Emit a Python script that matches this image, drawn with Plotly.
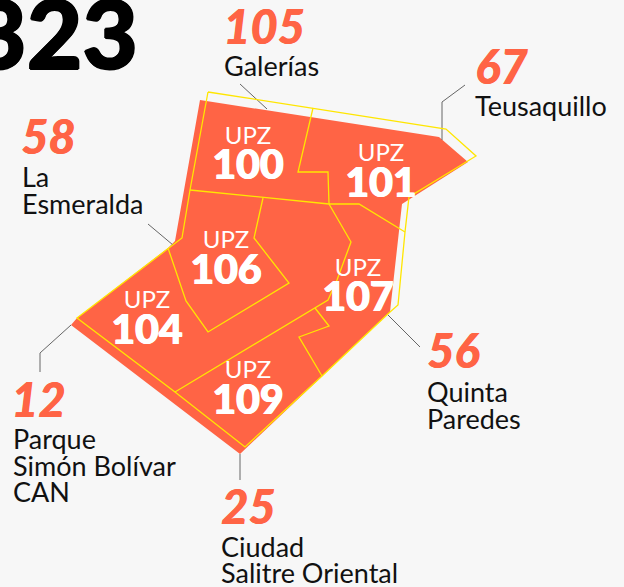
import plotly.graph_objects as go

# Map outline and boundaries, in the picture's own coordinate system
territory_x = [200, 439, 468, 402, 390, 240, 71, 77, 168, 175, 200]
territory_y = [100, 137, 162, 204, 312, 454, 325, 318, 248, 241, 100]

boundaries = {
    "outer": ([208, 313, 446, 476, 409, 405, 398, 390, 322, 245, 175, 77, 168, 182, 190, 208],
              [92, 108, 129, 156, 197, 232, 305, 312, 376, 447, 392, 318, 248, 238, 190, 92]),
    "upz100_101": ([313, 298, 328, 329], [108, 172, 172, 204]),
    "north": ([190, 329, 359, 405], [190, 204, 204, 232]),
    "upz106": ([263, 254, 289, 208, 186, 168], [198, 238, 283, 332, 301, 248]),
    "upz107": ([329, 351, 337, 328, 175], [204, 242, 280, 300, 392]),
    "upz109": ([315, 329, 299, 322], [308, 326, 337, 376]),
}

leaders = {
    "galerias": ([240, 267], [84, 109]),
    "teusaquillo": ([465, 442, 442], [85, 102, 140]),
    "esmeralda": ([148, 173], [224, 245]),
    "quinta": ([388, 420], [315, 347]),
    "parque": ([71, 40, 40], [325, 353, 372]),
    "ciudad": ([240, 240], [454, 480]),
}

count_values = ["105", "67", "58", "12", "25", "56"]
count_x = [223, 475, 21, 11, 221, 427]
count_y = [32, 72, 142, 405, 512, 356]

name_lines = ["Galerías", "Teusaquillo", "La", "Esmeralda", "Parque", "Simón Bolívar",
              "CAN", "Ciudad", "Salitre Oriental", "Quinta", "Paredes"]
name_x = [224, 475, 22, 22, 13, 13, 13, 221, 221, 427, 427]
name_y = [69, 109, 180, 207, 442, 469, 495, 550, 576, 395, 422]

upz_codes = ["100", "101", "106", "107", "104", "109"]
upz_x = [248, 381, 226, 358, 147, 248]
upz_word_y = [138, 155, 242, 270, 302, 372]
upz_code_y = [169, 187, 274, 301, 334, 404]

total_text = "323"
ORANGE = "#ff6445"
YELLOW = "#ffe600"
GREY = "#666666"
BG = "#f7f7f7"
FONT = "Lato"

fig = go.Figure()

fig.add_trace(go.Scatter(x=territory_x, y=territory_y, mode="lines", fill="toself",
                         fillcolor=ORANGE, line=dict(color=ORANGE, width=0), hoverinfo="skip"))

for xs, ys in leaders.values():
    fig.add_trace(go.Scatter(x=xs, y=ys, mode="lines", line=dict(color=GREY, width=1), hoverinfo="skip"))

for xs, ys in boundaries.values():
    fig.add_trace(go.Scatter(x=xs, y=ys, mode="lines", line=dict(color=YELLOW, width=1.3), hoverinfo="skip"))

fig.add_trace(go.Scatter(x=[138], y=[45], mode="text", text=[total_text], textposition="middle left",
                         textfont=dict(family=FONT, size=96, color="#000000", weight=900,
                                       shadow="1px 0 0 #000, -1px 0 0 #000, 0 1px 0 #000, 0 -1px 0 #000"),
                         cliponaxis=False))
fig.add_trace(go.Scatter(x=count_x, y=count_y, mode="text", text=count_values, textposition="middle right",
                         textfont=dict(family=FONT, size=47, color=ORANGE, weight=900, style="italic",
                                       shadow="0.6px 0 0 #ff6445")))
fig.add_trace(go.Scatter(x=name_x, y=name_y, mode="text", text=name_lines, textposition="middle right",
                         textfont=dict(family=FONT, size=27, color="#111111")))
fig.add_trace(go.Scatter(x=upz_x, y=upz_word_y, mode="text", text=["UPZ"] * len(upz_x), textposition="middle center",
                         textfont=dict(family=FONT, size=24, color="#ffffff")))
fig.add_trace(go.Scatter(x=upz_x, y=upz_code_y, mode="text", text=upz_codes, textposition="middle center",
                         textfont=dict(family=FONT, size=41, color="#ffffff", weight=900,
                                       shadow="0.7px 0 0 #fff, -0.7px 0 0 #fff")))

fig.update_layout(
    width=624, height=587, showlegend=False, margin=dict(l=0, r=0, t=0, b=0),
    paper_bgcolor=BG, plot_bgcolor=BG,
    xaxis=dict(range=[0, 624], visible=False, fixedrange=True),
    yaxis=dict(range=[587, 0], visible=False, fixedrange=True),
)
fig.write_html("out.html", config={"displayModeBar": False},
               post_script="document.documentElement.style.margin='0';document.body.style.margin='0';document.body.style.background='#f7f7f7';")
